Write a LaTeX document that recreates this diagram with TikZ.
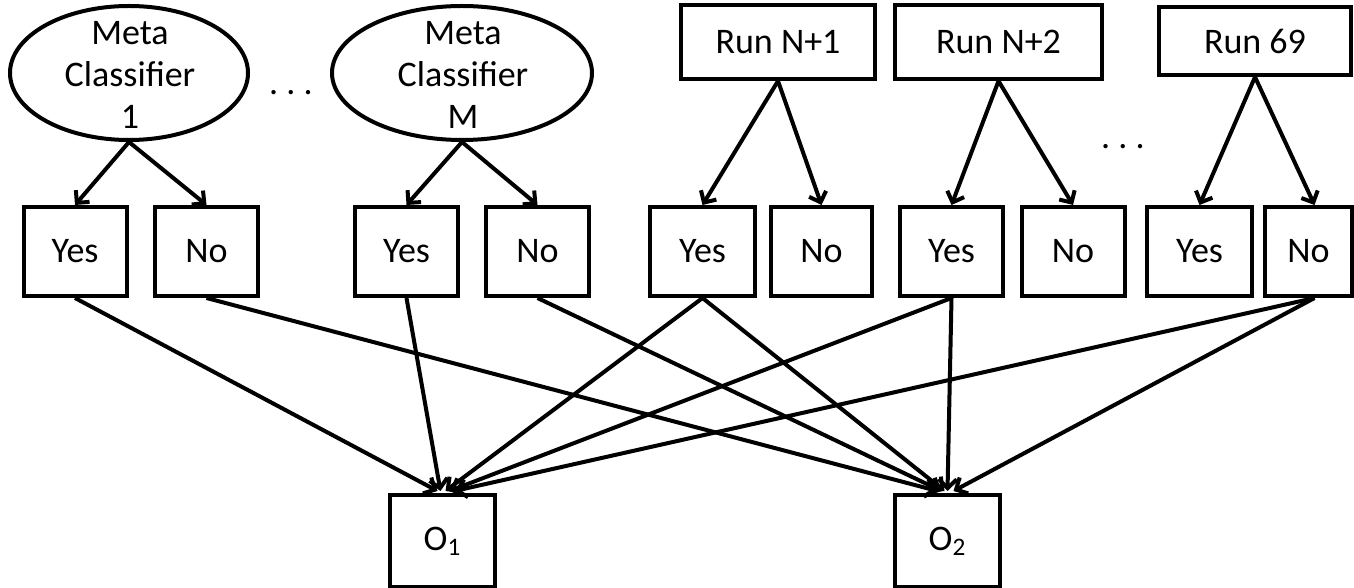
\documentclass[tikz,border=0pt]{standalone}
\usepackage{fontspec}
\setmainfont{Carlito}
\usetikzlibrary{arrows.meta,shapes.geometric,calc}

\begin{document}
\begin{tikzpicture}[x=0.5pt,y=-0.5pt,
  every node/.style={font=\fontsize{18}{21.5}\selectfont},
  box/.style={draw,line width=2pt,inner sep=0pt},
  leaf/.style={box,minimum width=51.5pt,minimum height=44.5pt},
  run/.style={box,minimum height=37pt},
  outbox/.style={box,minimum width=52.5pt,minimum height=46pt},
  meta/.style={draw,ellipse,line width=2pt,minimum height=67pt,inner sep=0pt},
  metatext/.style={align=center,font=\fontsize{18}{21}\selectfont},
  link/.style={line width=2pt,-{Straight Barb[length=4.5pt,width=9pt]}}
]
\useasboundingbox (0,0) rectangle (1354,588);

% classifiers and runs on the top row
\node[meta,minimum width=119pt] (m1) at (129,73) {};
\node[metatext] (m1t) at (130,75) {Meta\\Classifier\\1};
\node[meta,minimum width=130pt] (mM) at (462,73) {};
\node[metatext] (mMt) at (463,75) {Meta\\Classifier\\M};
\node (dotsA) at (291,93) {.\ .\ .};

\node[run,minimum width=97pt] (r1) at (778,42) {Run N+1};
\node[run,minimum width=103.5pt] (r2) at (998.5,42) {Run N+2};
\node[run,minimum width=96pt,minimum height=34pt] (r3) at (1255,41) {Run 69};
\node (dotsB) at (1123,147) {.\ .\ .};

% yes / no decisions
\node[leaf] (y1) at (75,251.5) {Yes};
\node[leaf] (n1) at (206.5,251.5) {No};
\node[leaf] (y2) at (406.5,251.5) {Yes};
\node[leaf] (n2) at (537.5,251.5) {No};
\node[leaf,minimum width=52.5pt] (y3) at (702.5,251.5) {Yes};
\node[leaf,minimum width=50.5pt] (n3) at (821.5,251.5) {No};
\node[leaf] (y4) at (951.5,251.5) {Yes};
\node[leaf] (n4) at (1073,251.5) {No};
\node[leaf,minimum width=52.5pt] (y5) at (1199.5,251.5) {Yes};
\node[leaf,minimum width=43.5pt] (n5) at (1308.5,251.5) {No};

% outputs
\node[outbox] (o1) at (442.5,541) {O\textsubscript{1}};
\node[outbox] (o2) at (947.5,541) {O\textsubscript{2}};

% branches from each classifier / run
\draw[link] (m1.south) -- (y1.north);
\draw[link] (m1.south) -- (n1.north);
\draw[link] (mM.south) -- (y2.north);
\draw[link] (mM.south) -- (n2.north);
\draw[link] (r1.south) -- (y3.north);
\draw[link] (r1.south) -- (n3.north);
\draw[link] (r2.south) -- (y4.north);
\draw[link] (r2.south) -- (n4.north);
\draw[link] (r3.south) -- (y5.north);
\draw[link] (r3.south) -- ($(n5.north)+(6,0)$);

% votes into the outputs
\draw[link] (y1.south) -- ($(o1.north)+(-5,-2)$);
\draw[link] (y2.south) -- ($(o1.north)+(-2,-2)$);
\draw[link] (y3.south) -- ($(o1.north)+(3,-2)$);
\draw[link] (y4.south) -- ($(o1.north)+(7,-2)$);
\draw[link] ($(n5.south)+(6,0)$) -- ($(o1.north)+(12,-2)$);

\draw[link] (n1.south) -- ($(o2.north)+(-10,-2)$);
\draw[link] (n2.south) -- ($(o2.north)+(-6,-2)$);
\draw[link] (y3.south) -- ($(o2.north)+(-3,-2)$);
\draw[link] (y4.south) -- ($(o2.north)+(0,-2)$);
\draw[link] ($(n5.south)+(6,0)$) -- ($(o2.north)+(6,-2)$);
\end{tikzpicture}
\end{document}
